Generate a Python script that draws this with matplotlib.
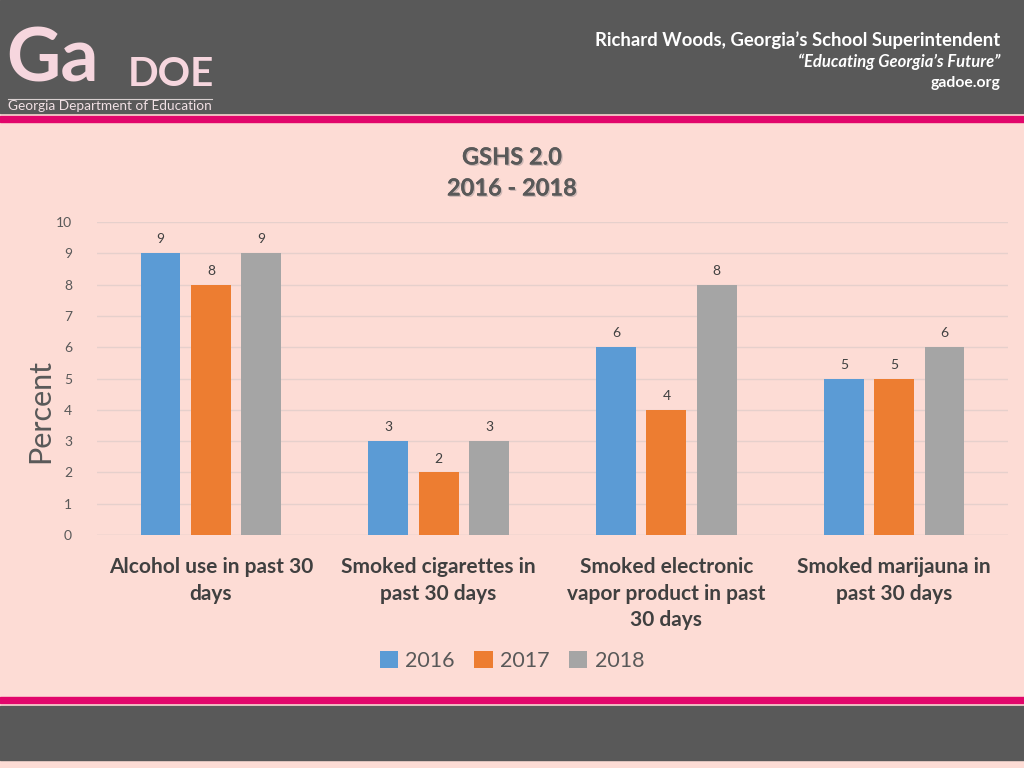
import numpy as np
import matplotlib.pyplot as plt
import matplotlib.patheffects as pe
from matplotlib.patches import Rectangle

categories = ["Alcohol use in past 30\ndays", "Smoked cigarettes in\npast 30 days",
              "Smoked electronic\nvapor product in past\n30 days", "Smoked marijauna in\npast 30 days"]
years = ["2016", "2017", "2018"]
v2016 = [9, 3, 6, 5]
v2017 = [8, 2, 4, 5]
v2018 = [9, 3, 8, 6]
colors = ["#5B9BD5", "#ED7D31", "#A5A5A5"]

plt.rcParams['font.family'] = ['Lato', 'DejaVu Sans']
bg = "#FDDCD5"
band = "#595959"
pink = "#E2066B"

fig = plt.figure(figsize=(10.24, 7.68), dpi=100)
fig.patch.set_facecolor(bg)

# header / footer bands
fig.add_artist(Rectangle((0, 1 - 113/768), 1, 113/768, transform=fig.transFigure, color=band, zorder=0))
fig.add_artist(Rectangle((0, 1 - 122/768), 1, 6/768, transform=fig.transFigure, color=pink, zorder=0))
fig.add_artist(Rectangle((0, 1 - 703/768), 1, 6/768, transform=fig.transFigure, color=pink, zorder=0))
fig.add_artist(Rectangle((0, 1 - 760/768), 1, 54/768, transform=fig.transFigure, color=band, zorder=0))

# logo (text stand-in)
fig.text(6/1024, 1 - 60/768, "Ga", color="#F6D6DE", fontsize=54, fontweight="bold", va="center", ha="left")
fig.text(128/1024, 1 - 74/768, "DOE", color="#F6D6DE", fontsize=29, fontweight="bold", va="center", ha="left")
fig.add_artist(plt.Line2D([8/1024, 212/1024], [1 - 99/768, 1 - 99/768], color="#D8D0D0", lw=0.8))
fig.text(8/1024, 1 - 106/768, "Georgia Department of Education", color="#F0E0E4", fontsize=9.8,
         va="center", ha="left")

fig.text(1000/1024, 1 - 40/768, "Richard Woods, Georgia\u2019s School Superintendent", color="white",
         fontsize=13.3, fontweight="bold", ha="right", va="center")
fig.text(1000/1024, 1 - 62/768, "\u201cEducating Georgia\u2019s Future\u201d", color="white",
         fontsize=12, fontweight="bold", style="italic", ha="right", va="center")
fig.text(1000/1024, 1 - 83/768, "gadoe.org", color="white", fontsize=11.3, fontweight="bold",
         ha="right", va="center")

shadow = [pe.withSimplePatchShadow(offset=(1, -1), shadow_rgbFace="#B0A0A0", alpha=0.6), pe.Normal()]
fig.text(512/1024, 1 - 157/768, "GSHS 2.0", color="#595959", fontsize=17, fontweight="bold",
         ha="center", va="center", path_effects=shadow)
fig.text(512/1024, 1 - 188/768, "2016 - 2018", color="#595959", fontsize=17, fontweight="bold",
         ha="center", va="center", path_effects=shadow)

ax = fig.add_axes([97/1024, 1 - 535/768, 911/1024, 313/768])
ax.set_facecolor("none")
x = np.arange(len(categories))
w = 0.175
off = 0.221
for i, (vals, c) in enumerate(zip([v2016, v2017, v2018], colors)):
    bars = ax.bar(x + (i - 1) * off, vals, w, color=c, label=years[i], zorder=3)
    for b, v in zip(bars, vals):
        ax.text(b.get_x() + b.get_width() / 2, v + 0.25, str(v), ha="center", va="bottom",
                fontsize=10, color="#404040")

ax.set_xlim(-0.5, 3.5)
ax.set_ylim(0, 10)
ax.set_yticks(range(0, 11))
ax.yaxis.grid(True, color="#E6D0CC", lw=1, zorder=0)
ax.tick_params(axis="y", length=0, labelsize=10, labelcolor="#595959", pad=18)
ax.tick_params(axis="x", length=0, pad=16)
ax.set_xticks(x)
ax.set_xticklabels(categories, fontsize=15, fontweight="bold", color="#404040", linespacing=1.4)
for s in ax.spines.values():
    s.set_visible(False)
ax.axhline(0, color="#E6D0CC", lw=1, zorder=1)
fig.text(40/1024, 1 - 411/768, "Percent", rotation=90, fontsize=22, color="#595959",
         ha="center", va="center")

leg = fig.legend(loc="center", bbox_to_anchor=(512/1024, 1 - 661/768), ncol=3, frameon=False,
                 fontsize=15.5, handlelength=0.85, handleheight=0.85, handletextpad=0.35, columnspacing=0.9)
for t in leg.get_texts():
    t.set_color("#595959")

fig.savefig("out.png", dpi=100, facecolor=bg)
